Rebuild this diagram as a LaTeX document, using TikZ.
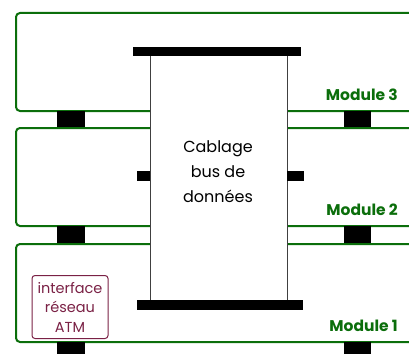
\documentclass[tikz,border=0pt]{standalone}
\usepackage{fontspec}
\setmainfont{Poppins}
\usetikzlibrary{positioning}
\definecolor{modgreen}{HTML}{0B6E0B}
\definecolor{atmred}{HTML}{7A2145}
\tikzset{module/.style={draw=modgreen, line width=2pt, rounded corners=4pt}}
\tikzset{plug/.style={fill=black}}
\tikzset{modlabel/.style={text=modgreen, font=\bfseries\fontsize{15.5}{16}\selectfont, anchor=base east, inner sep=0pt}}
\tikzset{buslabel/.style={align=center, font=\fontsize{16}{25}\selectfont, inner sep=0pt}}
\tikzset{atmbox/.style={draw=atmred, text=atmred, rounded corners=3pt, line width=1pt,
   minimum width=76pt, minimum height=63pt, inner sep=0pt, align=center,
   font=\fontsize{14.5}{19.5}\selectfont}}

\begin{document}
\begin{tikzpicture}[x=1pt, y=-1pt]

    \useasboundingbox (0,0) rectangle (409,353);
    \clip (0,0) rectangle (409,353);

    \foreach \m/\t in {3/13, 2/128, 1/244} {
      \draw[module] (16,\t) rectangle (440,\t+98);
      \fill[plug] (57,\t+98) rectangle (85,\t+115);
      \fill[plug] (344,\t+98) rectangle (371,\t+115);
      \node[modlabel] (mod\m) at (398,\t+87) {Module \m};
    }

    \fill[white] (150,56) rectangle (287,300);
    \draw[black!75, line width=0.8pt] (150,56) -- (150,300) (287,56) -- (287,300);
    \fill[plug] (133,47) rectangle (301,56);
    \fill[plug] (137,300) rectangle (303,310);
    \fill[plug] (137,171) rectangle (150,181);
    \fill[plug] (287,171) rectangle (304,181);

    \node[buslabel] (bus) at (218,172) {Cablage\\bus de\\données};
    \node[atmbox] (atm) at (70,307) {interface\\réseau\\ATM};

  \end{tikzpicture}
\end{document}
